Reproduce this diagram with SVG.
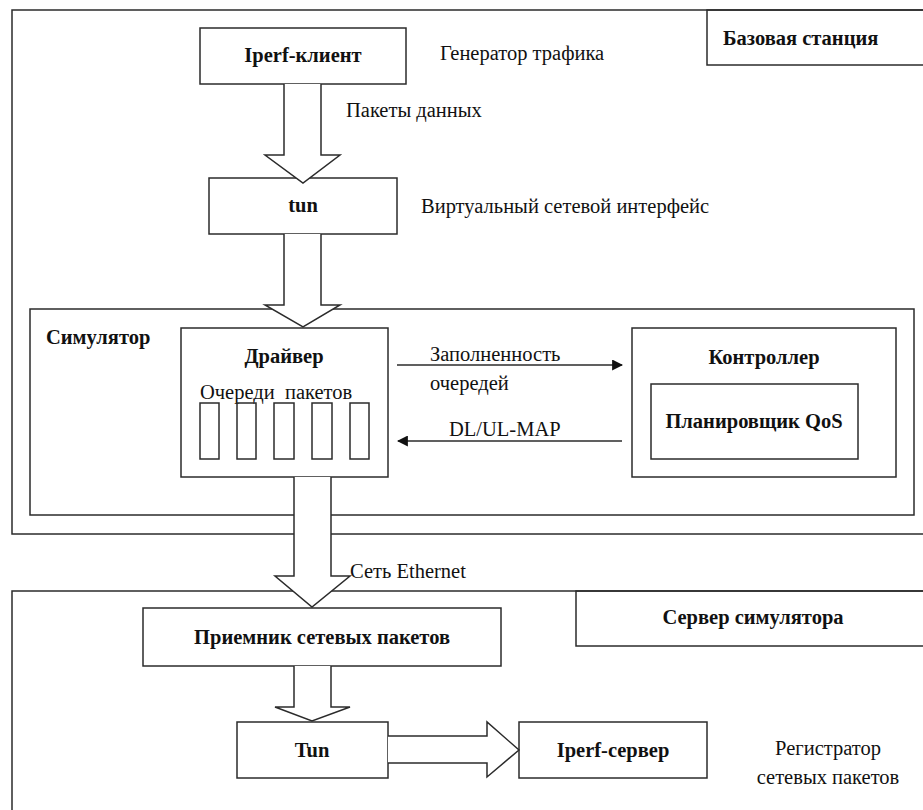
<svg xmlns="http://www.w3.org/2000/svg" width="923" height="810" viewBox="0 0 923 810">
<defs>
<style>
.box{fill:none;stroke:#2b2b2b;stroke-width:1.5}
.fbox{fill:#fff;stroke:#2b2b2b;stroke-width:1.5}
.big{fill:#fff;stroke:#2b2b2b;stroke-width:1.5;stroke-linejoin:miter}
.t{font-family:"Liberation Serif","Times New Roman",serif;font-size:20.5px;fill:#111}
.b{font-family:"Liberation Serif","Times New Roman",serif;font-size:20.5px;font-weight:bold;fill:#111}
.m{text-anchor:middle}
.ln{stroke:#2b2b2b;stroke-width:1.5;fill:none}
</style>
<marker id="ah" viewBox="0 0 10 10" refX="9" refY="5" markerWidth="11" markerHeight="11" markerUnits="userSpaceOnUse" orient="auto">
<path d="M0,0 L10,5 L0,10 z" fill="#111"/>
</marker>
</defs>
<rect width="923" height="810" fill="#fff"/>

<g id="base-station">
<rect class="box" x="12" y="10" width="920" height="524"/>
<rect class="box" x="707" y="10" width="225" height="55"/>
<text class="b" x="723" y="45">Базовая станция</text>
</g>

<g id="sim-server">
<rect class="box" x="12" y="591" width="920" height="230"/>
<rect class="box" x="576" y="591" width="356" height="55"/>
<text class="b m" x="753" y="624">Сервер симулятора</text>
</g>

<g id="simulator">
<rect class="box" x="30" y="309" width="884" height="206"/>
<text class="b" x="46" y="344">Симулятор</text>
</g>

<g id="iperf-client">
<rect class="fbox" x="200" y="28" width="206" height="56"/>
<text class="b m" x="303" y="62">Iperf-клиент</text>
</g>
<text class="t" x="440" y="60">Генератор трафика</text>
<text class="t" x="346" y="117">Пакеты данных</text>

<g id="tun">
<rect class="fbox" x="209" y="178" width="188" height="56"/>
<text class="b m" x="303" y="212">tun</text>
</g>
<text class="t" x="421" y="213">Виртуальный сетевой интерфейс</text>

<g id="driver">
<rect class="fbox" x="181" y="328" width="207" height="149"/>
<text class="b m" x="284" y="363">Драйвер</text>
<text class="t" x="200" y="399" xml:space="preserve">Очереди  пакетов</text>
<rect class="box" x="200" y="403" width="19" height="56"/>
<rect class="box" x="237" y="403" width="19" height="56"/>
<rect class="box" x="274" y="403" width="20" height="56"/>
<rect class="box" x="312" y="403" width="20" height="56"/>
<rect class="box" x="350" y="403" width="19" height="56"/>
</g>

<g id="controller">
<rect class="fbox" x="632" y="328" width="264" height="149"/>
<text class="b m" x="764" y="364">Контроллер</text>
</g>

<g id="qos-scheduler">
<rect class="fbox" x="651" y="384" width="207" height="75"/>
<text class="b m" x="754" y="428">Планировщик QoS</text>
</g>

<g id="receiver">
<rect class="fbox" x="143" y="608" width="358" height="58"/>
<text class="b m" x="322" y="644">Приемник сетевых пакетов</text>
</g>

<g id="tun2">
<rect class="fbox" x="237" y="722" width="151" height="56"/>
<text class="b m" x="312" y="757">Tun</text>
</g>

<g id="iperf-server">
<rect class="fbox" x="519" y="722" width="188" height="56"/>
<text class="b m" x="613" y="757">Iperf-сервер</text>
</g>
<text class="t m" x="828" y="755">Регистратор</text>
<text class="t m" x="828" y="784">сетевых пакетов</text>

<g id="connectors">
<path class="big" d="M284,84 V155 H265 L303,183 L340,155 H321 V84"/>
<path class="big" d="M284,234 V305 H265 L303,327 L340,305 H321 V234"/>
<path class="big" d="M294,477 V576 H275 L312,607 L350,576 H331 V477"/>
<path class="big" d="M294,666 V707 H275 L312,721 L350,707 H331 V666"/>
<path class="big" d="M388,736 H487 V722 L519,750 L487,777 V763 H388"/>
<line class="ln" x1="397" y1="365" x2="622" y2="365" marker-end="url(#ah)"/>
<line class="ln" x1="622" y1="441" x2="398" y2="441" marker-end="url(#ah)"/>
<text class="t" x="430" y="361">Заполненность</text>
<text class="t" x="430" y="390">очередей</text>
<text class="t" x="449" y="436">DL/UL-MAP</text>
<text class="t" x="350" y="578">Сеть Ethernet</text>
</g>
</svg>
